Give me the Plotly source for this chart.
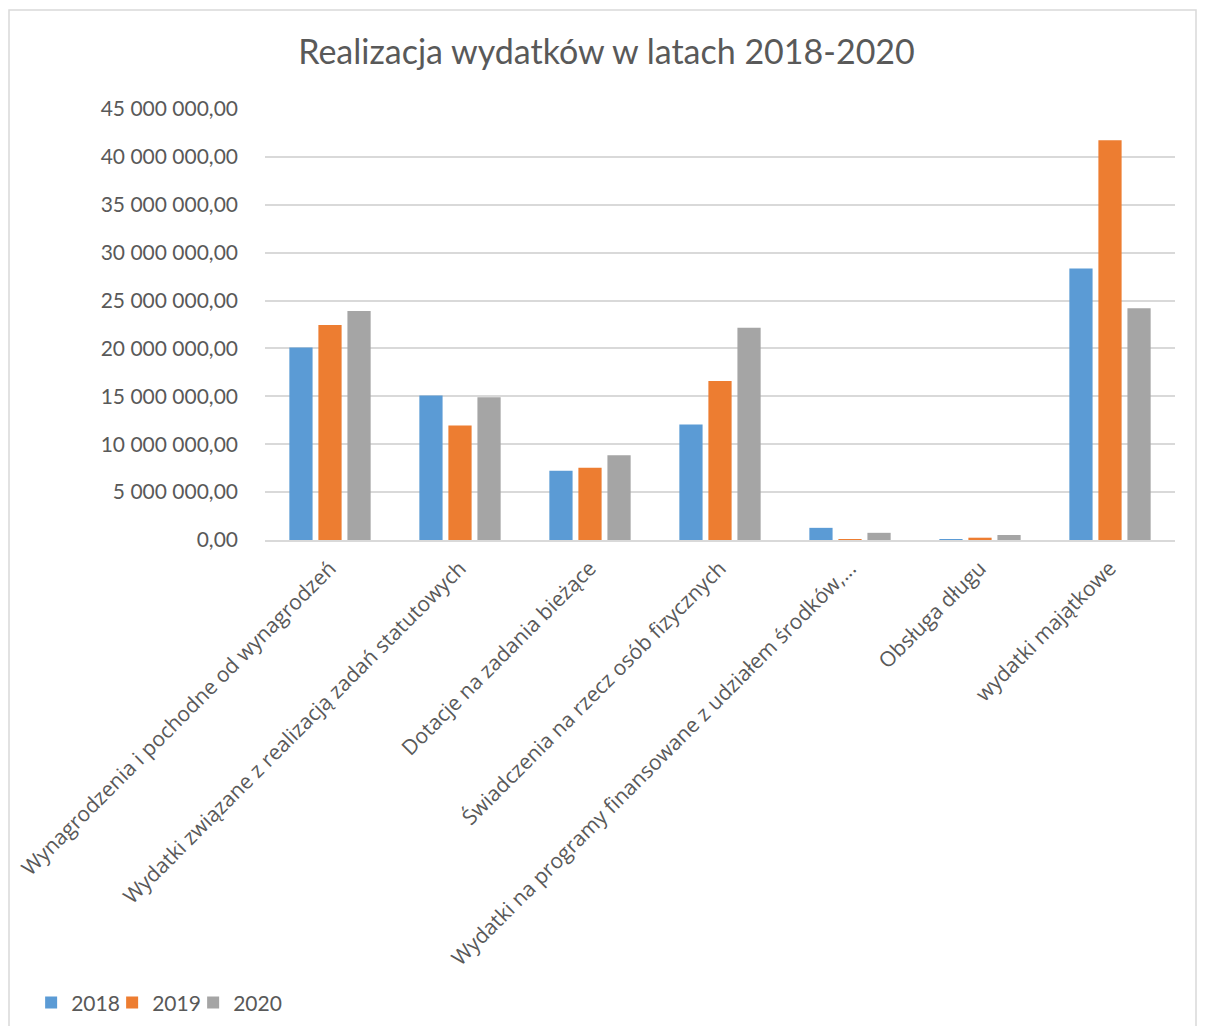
import plotly.graph_objects as go

categories = [
    "Wynagrodzenia i pochodne od wynagrodzeń",
    "Wydatki związane z realizacją zadań statutowych",
    "Dotacje na zadania bieżące",
    "Świadczenia na rzecz osób fizycznych",
    "Wydatki na programy finansowane z udziałem środków,...",
    "Obsługa długu",
    "wydatki majątkowe",
]
v2018 = [20100000, 15100000, 7230000, 12050000, 1270000, 30000, 28340000]
v2019 = [22440000, 11960000, 7550000, 16600000, 40000, 240000, 41730000]
v2020 = [23900000, 14900000, 8840000, 22150000, 750000, 520000, 24190000]
series_names = ["2018", "2019", "2020"]
colors = ["#5b9bd5", "#ed7d31", "#a5a5a5"]

FONT = "Lato"
GREY = "#595959"

# the page body adds an 8px offset; figure is sized to fit inside the window
W, H = 1190, 1018
L, T = 257, 101
PW, PH = 910, 431

legend_ids = ["legend", "legend2", "legend3"]
legend_x = [-0.257, -0.257 + 81/PW, -0.257 + 162/PW]

fig = go.Figure()
for name, vals, col, lid in zip(series_names, [v2018, v2019, v2020], colors, legend_ids):
    fig.add_trace(go.Bar(name=name, x=categories, y=vals, legend=lid,
                         marker=dict(color=col, line=dict(width=0))))

legend_common = dict(orientation="h", xanchor="left", y=-1.074, yanchor="middle",
                     font=dict(size=21, color=GREY), itemwidth=30, bgcolor="rgba(0,0,0,0)")

fig.update_layout(
    width=W, height=H,
    margin=dict(l=L, r=W - L - PW, t=T, b=H - T - PH, autoexpand=False),
    paper_bgcolor="white", plot_bgcolor="white",
    barmode="group", bargap=0.33, bargroupgap=0.2,
    separators=", ",
    font=dict(family=FONT, color=GREY),
    title=dict(text="Realizacja wydatków w latach 2018-2020", x=(598.5)/W, xanchor="center",
               y=1 - 44/H, yanchor="middle", font=dict(size=34, color=GREY, family=FONT)),
    legend=dict(x=legend_x[0], **legend_common),
    legend2=dict(x=legend_x[1], **legend_common),
    legend3=dict(x=legend_x[2], **legend_common),
    showlegend=True,
)
fig.update_xaxes(tickangle=-45, tickfont=dict(size=21, color=GREY, family="Open Sans"), showline=True,
                 linecolor="#d9d9d9", linewidth=1.5, ticks="", showgrid=False,
                 ticklabelstandoff=6)
fig.update_yaxes(range=[0, 45000000], dtick=5000000, tickformat=",.2f",
                 tickfont=dict(size=21, color=GREY), showgrid=True, gridcolor="#d9d9d9",
                 gridwidth=1.5, zeroline=False, showline=False, ticks="", ticklabelstandoff=26)

fig.add_shape(type="rect", xref="paper", yref="paper",
              x0=(1 - L)/PW, x1=(W - 2 - L)/PW, y0=-1.4, y1=(T + PH - 2)/PH,
              line=dict(color="#d9d9d9", width=1.5), fillcolor="rgba(0,0,0,0)", layer="below")

fig.write_html("out.html")
